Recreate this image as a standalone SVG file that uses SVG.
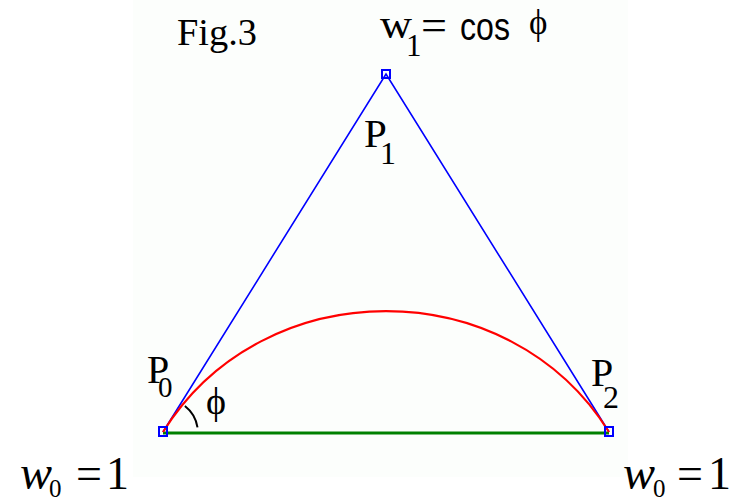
<svg xmlns="http://www.w3.org/2000/svg" width="745" height="501" viewBox="0 0 745 501">
<style>
.lbl{font-family:"Liberation Serif","DejaVu Serif",serif;fill:#000}
.eq{font-family:"Liberation Serif","Times New Roman",serif;fill:#000}
.pt{fill:none;stroke:#0000ff;stroke-width:2}
.poly{fill:none;stroke:#0000ff;stroke-width:1.6}
</style>
<rect x="0" y="0" width="745" height="501" fill="#ffffff"/>
<rect x="133" y="0" width="495" height="477" fill="#fcfefc"/>
<g id="connectors">
<polyline class="poly" points="163,432 386,74 609,432"/>
<line x1="163" y1="433" x2="609" y2="433" stroke="#008000" stroke-width="3"/>
<path d="M163,432 C263.4,270.9 508.6,270.9 609,432" fill="none" stroke="#ff0000" stroke-width="2.2"/>
<path d="M184.9,406 A34,34 0 0 1 197.5,427.3" fill="none" stroke="#000" stroke-width="2"/>
</g>
<g id="P0">
<rect class="pt" x="159" y="427" width="8" height="9"/>
<text class="lbl" x="147" y="383" font-size="40">P</text>
<text class="lbl" x="158" y="397" font-size="29">0</text>
</g>
<g id="P1">
<rect class="pt" x="382" y="70" width="8" height="8"/>
<text class="lbl" x="364" y="147" font-size="41">P</text>
<text class="lbl" x="380" y="164" font-size="32">1</text>
</g>
<g id="P2">
<rect class="pt" x="605" y="427" width="8" height="9"/>
<text class="lbl" x="591" y="386" font-size="40">P</text>
<text class="lbl" x="603" y="408" font-size="32">2</text>
</g>
<g id="title">
<text class="lbl" x="177" y="45" font-size="38" textLength="80" lengthAdjust="spacingAndGlyphs">Fig.3</text>
</g>
<g id="weight1">
<text class="lbl" x="380" y="38" font-size="41" textLength="32" lengthAdjust="spacingAndGlyphs">w</text>
<text class="lbl" x="406" y="56" font-size="31">1</text>
<text class="lbl" x="421" y="40" font-size="44" textLength="26" lengthAdjust="spacingAndGlyphs">=</text>
<text x="460" y="40" font-size="38" font-family="Liberation Sans, Arial, sans-serif" textLength="50" lengthAdjust="spacingAndGlyphs">cos</text>
<text class="lbl" x="529" y="34" font-size="35">ϕ</text>
</g>
<g id="angle">
<text class="lbl" x="206" y="414" font-size="38">ϕ</text>
</g>
<g id="w0left">
<text class="eq" x="20" y="489" font-size="48" font-style="italic">w</text>
<text class="eq" x="49" y="497" font-size="25">0</text>
<text class="eq" x="76" y="489" font-size="46">=</text>
<text class="eq" x="106" y="489" font-size="46">1</text>
</g>
<g id="w0right">
<text class="eq" x="623" y="489" font-size="48" font-style="italic">w</text>
<text class="eq" x="653" y="497" font-size="25">0</text>
<text class="eq" x="677" y="489" font-size="46">=</text>
<text class="eq" x="708" y="489" font-size="46">1</text>
</g>
</svg>
